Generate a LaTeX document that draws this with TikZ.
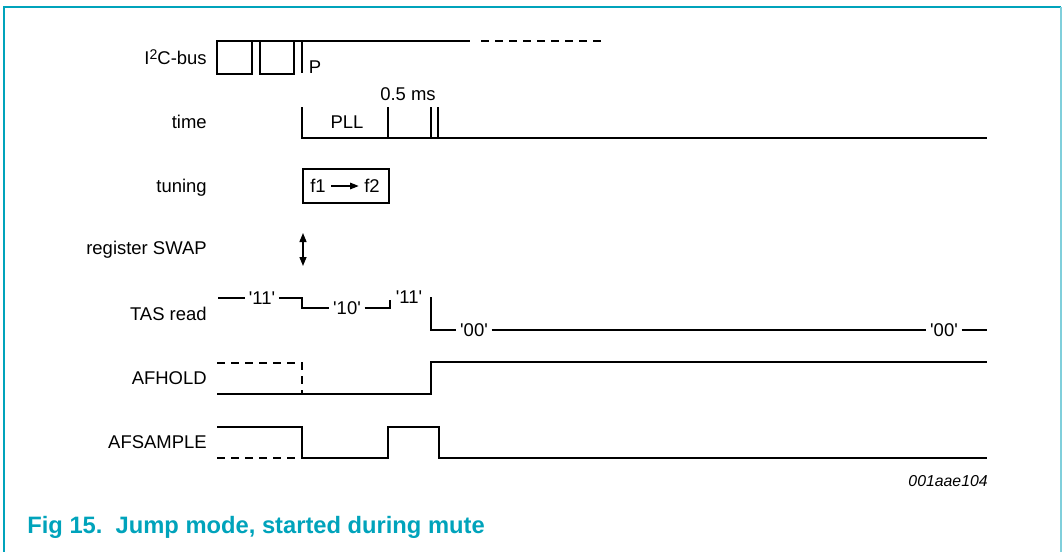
\documentclass[tikz,border=0pt]{standalone}
\usepackage{fontspec}
\setmainfont{Liberation Sans}
\usepackage{xcolor}
\definecolor{cFrame}{HTML}{00A3BB}
\definecolor{cFrameLt}{HTML}{80CFDB}
\definecolor{cWave}{HTML}{000000}
\usepackage{tikz}
\usetikzlibrary{positioning,arrows.meta,fit}
\newcommand{\lvl}[1]{\textquotesingle#1\textquotesingle}
\tikzset{
  row-label/.style={anchor=east,inner sep=0pt,font=\fontsize{10.5}{12}\selectfont},
  lvl-label/.style={inner xsep=2pt,inner ysep=0pt,font=\fontsize{10.5}{12}\selectfont},
  wave/.style={line width=1.6pt,draw=cWave,line join=miter},
  wave-dash/.style={wave,dash pattern=on 4.5pt off 3.5pt},
  tune-box/.style={draw=cWave,line width=1.6pt,minimum width=17.2mm,minimum height=6.8mm},
  arrow/.style={-{Triangle[length=1.7mm,width=1.3mm]},line width=0.7pt,draw=cWave},
  arrow-both/.style={{Triangle[length=1.8mm,width=1.4mm]}-{Triangle[length=1.8mm,width=1.4mm]},line width=0.8pt,draw=cWave},
  frame/.style={draw=cFrame,line width=1pt},
  frame-lt/.style={draw=cFrameLt,line width=1pt},
}
\begin{document}
\begin{tikzpicture}[x=0.2mm,y=-0.2mm]
  \useasboundingbox (0,0) rectangle (1063,552);
  \draw[frame] (4,552) -- (4,7) -- (1061,7);
  \draw[frame-lt] (1061,7) -- (1061,552);

  % row names
  \node[row-label] (l-bus) at (207,57) {I\raisebox{0.55ex}{\fontsize{8}{8}\selectfont 2}C-bus};
  \node[row-label] (l-time) at (207,122) {time};
  \node[row-label] (l-tune) at (207,188) {tuning};
  \node[row-label] (l-swap) at (207,250) {register SWAP};
  \node[row-label] (l-tas) at (207,314) {TAS read};
  \node[row-label] (l-hold) at (207,378) {AFHOLD};
  \node[row-label] (l-smp) at (207,442) {AFSAMPLE};

  % I2C-bus
  \draw[wave] (217,74) -- (217,41) -- (470,41);
  \draw[wave] (217,41) rectangle (252,74);
  \draw[wave] (260,41) rectangle (294,74);
  \draw[wave] (302,41) -- (302,73);
  \draw[wave-dash] (481,41) -- (602,41);
  \node[lvl-label] (stop) at (315,67) {P};

  % time
  \draw[wave] (302,107) -- (302,138) -- (987,138);
  \foreach \x in {388,431,438}
    \draw[wave] (\x,107) -- (\x,138);
  \node[lvl-label] (pll) at (347,122) {PLL};
  \node[lvl-label] (wait) at (408,94) {0.5 ms};

  % tuning
  \node[tune-box] (tune) at (346,186) {};
  \node[lvl-label] (f1) at (318,186) {f1};
  \node[lvl-label] (f2) at (372,186) {f2};
  \draw[arrow] ([xshift=1pt]f1.east) -- ([xshift=-1pt]f2.west);

  % register SWAP
  \coordinate (swap-top) at (303,233);
  \coordinate (swap-bot) at (303,266);
  \draw[arrow-both] (swap-top) -- (swap-bot);

  % TAS read
  \node[lvl-label] (tas11a) at (262,298) {\lvl{11}};
  \node[lvl-label] (tas10) at (347,308) {\lvl{10}};
  \node[lvl-label] (tas11b) at (409,297) {\lvl{11}};
  \node[lvl-label] (tas00a) at (474,330) {\lvl{00}};
  \node[lvl-label] (tas00b) at (944,330) {\lvl{00}};
  \draw[wave] (218,298) -- (tas11a.west);
  \draw[wave] (tas11a.east) -- (302,298) -- (302,308) -- (tas10.west);
  \draw[wave] (tas10.east) -- (390,308) -- (390,300);
  \draw[wave] (431,297) -- (431,330) -- (tas00a.west);
  \draw[wave] (tas00a.east) -- (tas00b.west);
  \draw[wave] (tas00b.east) -- (987,330);

  % AFHOLD
  \draw[wave-dash] (217,363) -- (302,363) -- (302,394);
  \draw[wave] (217,394) -- (431,394) -- (431,362) -- (987,362);

  % AFSAMPLE
  \draw[wave] (217,427) -- (302,427) -- (302,458) -- (388,458)
    -- (388,427) -- (439,427) -- (439,458) -- (987,458);
  \draw[wave-dash] (217,458) -- (302,458);

  \node[anchor=east,inner sep=0pt,font=\fontsize{9}{10}\selectfont\itshape] (fig-id) at (988,481) {001aae104};
  \node[anchor=west,inner sep=0pt,text=cFrame,font=\fontsize{13.5}{15}\selectfont\bfseries] (caption) at (27,527) {Fig 15.\ \ Jump mode, started during mute};
\end{tikzpicture}
\end{document}
